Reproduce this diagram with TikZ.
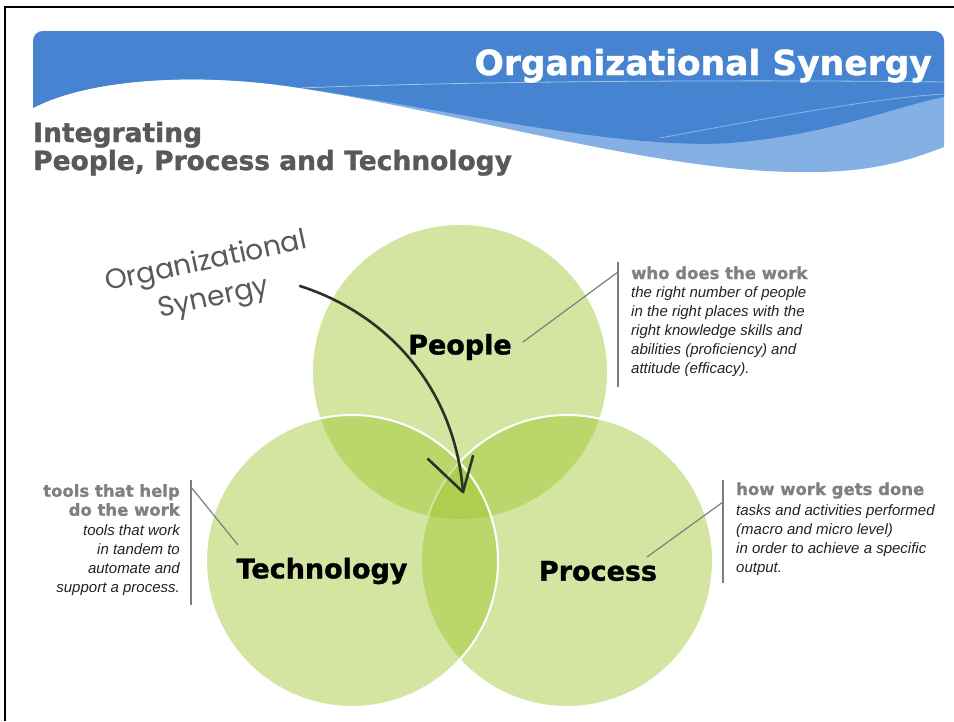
\documentclass[tikz,border=0pt]{standalone}
\usepackage{fontspec}
\setmainfont{Liberation Sans}
\newfontfamily\blackfont{DejaVu Sans Bold}[FakeBold=1.2]
\newfontfamily\handfont{Poppins}
\usetikzlibrary{positioning}

\definecolor{bannerblue}{RGB}{70,132,210}
\definecolor{wavelight}{RGB}{132,176,228}
\definecolor{headgray}{RGB}{89,89,89}
\definecolor{notegray}{RGB}{128,128,128}
\definecolor{notetext}{RGB}{34,34,34}
\definecolor{rulegray}{RGB}{125,125,125}
\definecolor{leafgreen}{RGB}{155,196,40}
\definecolor{ink}{RGB}{45,50,40}

\begin{document}
\begin{tikzpicture}[x=1pt,y=-1pt,
    venn/.style={fill=leafgreen,fill opacity=0.44},
    rim/.style={draw=white,line width=2pt},
    vennlabel/.style={font=\blackfont\fontsize{27}{27}\selectfont,inner sep=0pt},
    notehead/.style={font=\blackfont\fontsize{16.5}{19}\selectfont,text=notegray,inner sep=0pt},
    notebody/.style={font=\itshape\fontsize{15}{19}\selectfont,text=notetext,inner sep=0pt},
    noterule/.style={draw=rulegray,line width=2pt},
    noteleader/.style={draw=rulegray,line width=1.2pt}]
  \useasboundingbox (0,0) rectangle (954,721);
  % frame
  \draw[line width=2.5pt] (5,721) -- (5,7) -- (954,7);

  % banner with wave
  \fill[wavelight] (33,108) .. controls (90,78) and (200,72) .. (300,88)
    .. controls (500,120) and (700,185) .. (853,170)
    .. controls (900,165) and (930,152) .. (944,147) -- (944,41)
    arc[start angle=0,end angle=-90,radius=10] -- (43,31)
    arc[start angle=-90,end angle=-180,radius=10] -- cycle;
  \fill[bannerblue] (33,108) .. controls (90,78) and (200,72) .. (300,88)
    .. controls (450,110) and (620,150) .. (730,143)
    .. controls (830,135) and (900,105) .. (944,97) -- (944,41)
    arc[start angle=0,end angle=-90,radius=10] -- (43,31)
    arc[start angle=-90,end angle=-180,radius=10] -- cycle;
  \draw[white,opacity=0.5,line width=0.8pt] (300,88) .. controls (500,80) and (800,80) .. (944,82);
  \draw[white,opacity=0.4,line width=0.8pt] (660,138) .. controls (800,112) and (880,98) .. (944,94);

  % titles
  \node[anchor=base east,text=white,font=\blackfont\fontsize{34.5}{34.5}\selectfont,inner sep=0pt]
    (title) at (932,75) {Organizational Synergy};
  \node[anchor=base west,text=headgray,font=\blackfont\fontsize{26.5}{26.5}\selectfont,inner sep=0pt]
    (subtitle1) at (33,142) {Integrating};
  \node[anchor=base west,text=headgray,font=\blackfont\fontsize{26.5}{26.5}\selectfont,inner sep=0pt]
    (subtitle2) at (33,170) {People, Process and Technology};

  % circles
  \fill[venn] (460,372) circle[radius=147];
  \filldraw[venn,rim] (567,561) circle[radius=146];
  \filldraw[venn,rim] (352,561) circle[radius=146];

  \node[vennlabel] (people) at (460,347) {People};
  \node[vennlabel] (tech) at (322,571) {Technology};
  \node[vennlabel] (process) at (598,571) {Process};

  % people note
  \node[notehead,anchor=base west] (pwho) at (631,279) {who does the work};
  \node[notebody,anchor=north west,align=left] (pnote) at (631,286)
    {the right number of people\\in the right places with the\\right knowledge skills and\\abilities (proficiency) and\\attitude (efficacy).};
  \coordinate (ptop) at (618,262);
  \coordinate (pbot) at (618,387);
  \coordinate (pfoot) at (618,272);
  \coordinate (ptip) at (523,342);
  \draw[noterule] (ptop) -- (pbot);
  \draw[noteleader] (ptip) -- (pfoot);

  % technology note
  \node[notehead,anchor=north east,align=right] (twho) at (180,484) {tools that help\\do the work};
  \node[notebody,anchor=north east,align=right] (tnote) at (180,524)
    {tools that work\\in tandem to\\automate and\\support a process.};
  \coordinate (ttop) at (191,480);
  \coordinate (tbot) at (191,605);
  \coordinate (tfoot) at (191,487);
  \coordinate (ttip) at (238,545);
  \draw[noterule] (ttop) -- (tbot);
  \draw[noteleader] (tfoot) -- (ttip);

  % process note
  \node[notehead,anchor=base west] (hwho) at (736,495) {how work gets done};
  \node[notebody,anchor=north west,align=left] (hnote) at (736,504)
    {tasks and activities performed\\(macro and micro level)\\in order to achieve a specific\\output.};
  \coordinate (htop) at (723,480);
  \coordinate (hbot) at (723,583);
  \coordinate (hfoot) at (723,502);
  \coordinate (htip) at (647,557);
  \draw[noterule] (htop) -- (hbot);
  \draw[noteleader] (hfoot) -- (htip);

  % synergy arrow
  \node[font=\handfont\fontsize{28}{37}\selectfont,text=headgray,align=center,rotate=12,inner sep=0pt]
    (synlabel) at (210,281) {Organizational\\Synergy};
  \coordinate (tail) at (300,286);
  \coordinate (core) at (463,492);
  \coordinate (barbl) at (428,459);
  \coordinate (barbr) at (473,456);
  \draw[ink,line width=2.6pt,line cap=round] (tail) .. controls (390,315) and (455,390) .. (core);
  \draw[ink,line width=2.6pt,line cap=round,line join=round] (barbl) -- (core) -- (barbr);
\end{tikzpicture}
\end{document}
